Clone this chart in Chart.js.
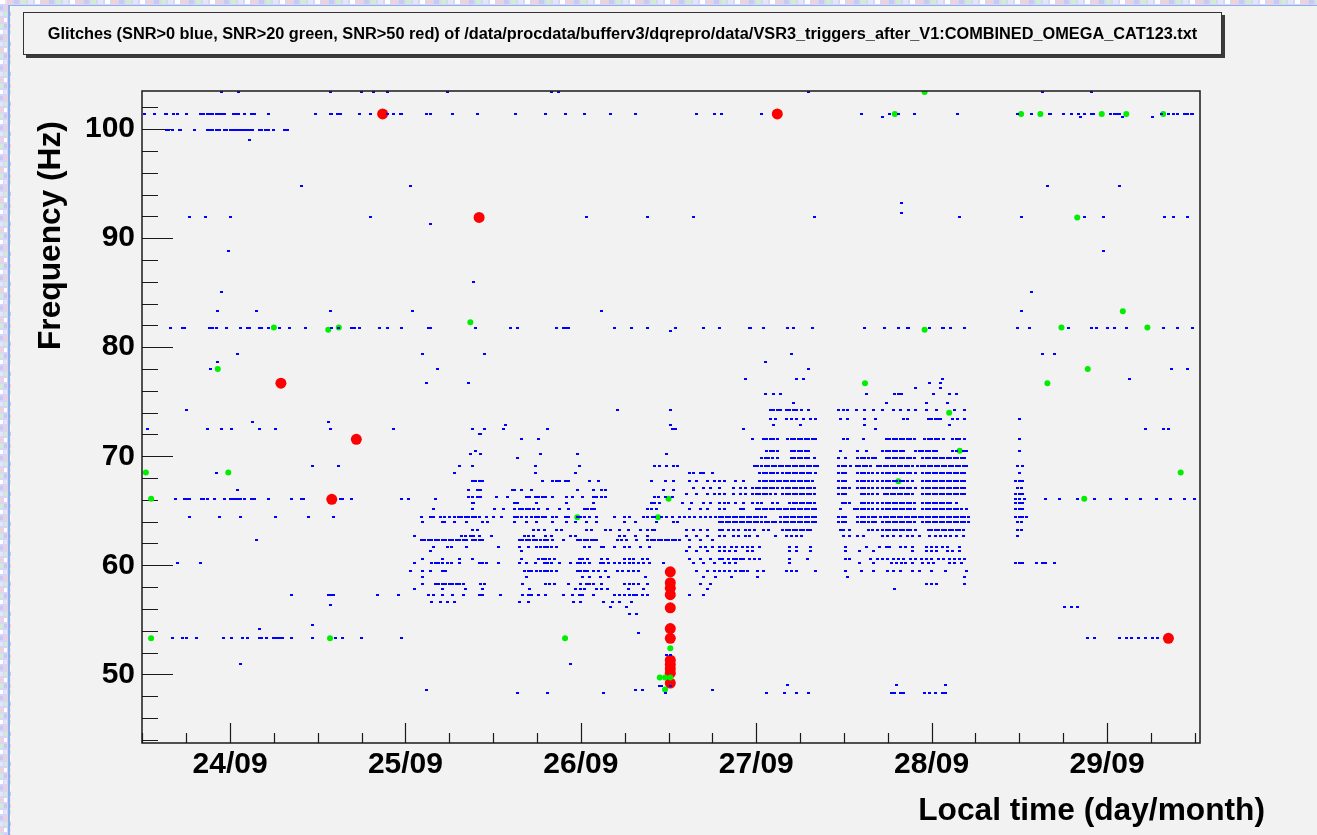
<!DOCTYPE html>
<html>
<head>
<meta charset="utf-8">
<title>Glitches</title>
<script src="https://cdn.jsdelivr.net/npm/chart.js@4.4.1/dist/chart.umd.min.js"></script>
<style>
  html, body { margin: 0; padding: 0; background: #f2f2f2; overflow: hidden; }
  canvas { display: block; }
</style>
</head>
<body>
<canvas id="glitches" width="1317" height="835"></canvas>
<script>
// Time is in days counted from 24/09 00:00 local time.
const xRange = [-0.502, 5.530];
const yRange = [43.7, 103.5];
const xTickDays = [0, 1, 2, 3, 4, 5];
const xTickLabels = ['24/09', '25/09', '26/09', '27/09', '28/09', '29/09'];
const yTickValues = [50, 60, 70, 80, 90, 100];

// SNR>0 triggers, grouped by the frequency of the tile they fall in (Hz)
const blueLevels = [
  103.4, 101.4, 101.1, 99.9, 99.0, 94.8, 93.2, 92.3, 91.9, 91.3,
  88.8, 86.0, 85.1, 83.3, 81.8, 81.5, 79.4, 78.6, 78.0, 77.1,
  76.7, 76.3, 75.7, 74.9, 74.2, 73.4, 73.1, 72.9, 72.5, 72.0,
  71.6, 70.5, 70.2, 69.8, 69.1, 68.5, 67.7, 67.1, 66.9, 66.5,
  66.3, 66.1, 65.7, 65.2, 64.4, 64.0, 63.2, 62.7, 62.3, 61.7,
  61.3, 60.6, 60.2, 59.5, 58.9, 58.3, 57.8, 57.3, 56.6, 56.4,
  56.2, 55.5, 54.5, 54.2, 53.8, 53.3, 51.8, 50.9, 49.0, 48.9,
  48.6, 48.3
];
// trigger times (days) for each entry of blueLevels, same order
const blueDays = [
  [-0.05,0.05,0.57,0.75,0.82,0.90,1.24,1.83,1.87,3.30,4.63,4.91],
  [-0.49,-0.43,-0.37,-0.36,-0.32,-0.30,-0.25,-0.17,-0.15,-0.13,-0.11,-0.10,-0.08,-0.06,-0.05,-0.03,0.02,0.03,0.05,0.08,0.12,0.14,0.22,0.49,0.57,0.58,0.61,0.63,0.74,0.80,0.90,0.93,0.97,0.98,1.12,1.14,1.27,1.41,1.63,1.80,1.91,2.02,2.17,2.31,2.66,2.76,2.80,3.03,3.60,3.76,3.81,3.90,4.15,4.49,4.57,4.67,4.68,4.75,4.80,4.84,4.87,4.91,4.92,5.02,5.04,5.06,5.07,5.31,5.35,5.38,5.40,5.44,5.46,5.48,5.49],
  [3.72,4.85,5.09,5.26],
  [-0.36,-0.35,-0.33,-0.29,-0.28,-0.20,-0.13,-0.12,-0.11,-0.10,-0.08,-0.07,-0.06,-0.03,-0.02,0.00,0.01,0.02,0.03,0.05,0.06,0.07,0.08,0.09,0.10,0.11,0.12,0.13,0.17,0.18,0.20,0.22,0.25,0.31,0.32,0.33],
  [0.11],
  [0.41,1.03,4.66,5.07],
  [3.83],
  [3.83],
  [-0.23,-0.14,0.00,0.80,2.03,2.38,2.64,3.33,4.16,4.51,4.87,4.98,5.33,5.38,5.46],
  [1.14],
  [-0.01,4.98],
  [1.39],
  [-0.05,4.57],
  [-0.07,0.15,0.57,1.04,2.12,4.51],
  [-0.34,-0.27,-0.26,-0.12,-0.10,-0.08,-0.02,0.06,0.10,0.11,0.17,0.18,0.22,0.28,0.34,0.43,0.58,0.62,0.69,0.71,0.74,0.85,0.90,0.98,1.13,1.14,1.40,1.60,1.64,1.86,1.90,1.92,1.93,2.19,2.29,2.38,2.54,2.70,2.79,2.96,2.97,3.04,3.18,3.21,3.32,3.62,3.73,3.81,3.86,3.87,3.99,4.06,4.07,4.11,4.19,4.49,4.56,4.78,4.91,4.94,5.00,5.04,5.11,5.32,5.40,5.49],
  [2.51],
  [0.04,1.10,1.45,3.20,4.63,4.70],
  [-0.07,3.05],
  [-0.11,1.18,3.30,5.37,5.46],
  [2.94,3.23,3.27,4.06,5.13],
  [1.12,1.36,3.99,4.05],
  [3.91,4.05],
  [3.05,3.10,3.14,3.63,3.79,3.81,3.83,4.01,4.10,4.14],
  [3.21,3.74,3.97,4.09],
  [-0.25,2.21,2.51,3.08,3.10,3.12,3.14,3.17,3.19,3.21,3.23,3.26,3.30,3.47,3.50,3.52,3.57,3.62,3.67,3.72,3.78,3.82,3.87,3.91,3.97,4.03,4.13,4.19],
  [3.08,3.11,3.17,3.20,3.23,3.27,3.31,3.34,3.48,3.52,3.62,3.68,3.84,3.86,3.98,4.00,4.02,4.04,4.05,4.12,4.15,4.19,4.50],
  [0.13,0.56],
  [1.57,2.51,3.10,3.25,3.62,4.10],
  [-0.47,-0.13,-0.05,0.01,0.17,0.26,0.57,0.93,1.38,1.45,1.56,1.81,2.52,2.54,2.93,3.68,5.22,5.32,5.35],
  [1.42,1.43],
  [1.66,1.76,2.98,3.04,3.06,3.08,3.10,3.12,3.18,3.20,3.22,3.24,3.26,3.28,3.30,3.32,3.34,3.50,3.52,3.61,3.74,3.76,3.78,3.80,3.82,3.84,3.86,3.88,3.90,3.96,3.98,4.00,4.02,4.04,4.07,4.12,4.14,4.16,4.19,4.50],
  [1.40,3.06,3.08,3.10,3.12,3.20,3.22,3.24,3.26,3.28,3.30,3.48,3.58,3.63,3.72,3.74,3.76,3.78,3.80,3.82,3.84,3.91,3.93,3.95,3.97,3.99,4.01,4.03,4.12,4.14,4.18,4.20,4.50],
  [1.37,1.43,1.77,1.98,2.49],
  [1.64,3.03,3.05,3.07,3.09,3.12,3.20,3.22,3.24,3.26,3.28,3.30,3.33,3.47,3.51,3.58,3.60,3.62,3.64,3.66,3.68,3.74,3.76,3.78,3.80,3.82,3.84,3.86,3.88,3.90,3.95,3.97,3.99,4.01,4.03,4.05,4.07,4.09,4.11,4.13,4.15,4.17,4.19],
  [0.47,0.62,1.31,1.38,1.74,1.99,2.42,2.45,2.49,2.53,2.55,2.99,3.01,3.03,3.05,3.07,3.09,3.11,3.13,3.15,3.17,3.19,3.21,3.23,3.25,3.27,3.29,3.31,3.33,3.35,3.47,3.49,3.51,3.54,3.57,3.59,3.61,3.63,3.65,3.69,3.71,3.73,3.75,3.77,3.79,3.81,3.83,3.85,3.87,3.89,3.92,3.94,3.96,3.98,4.00,4.02,4.04,4.06,4.08,4.10,4.12,4.14,4.16,4.18,4.20,4.49,4.52],
  [-0.08,1.28,1.74,1.97,2.62,2.64,2.68,2.70,2.75,3.02,3.04,3.06,3.08,3.10,3.12,3.15,3.17,3.19,3.21,3.23,3.25,3.27,3.29,3.31,3.34,3.47,3.49,3.51,3.58,3.60,3.62,3.64,3.66,3.69,3.72,3.74,3.76,3.78,3.80,3.82,3.84,3.86,3.88,3.91,3.95,3.97,3.99,4.01,4.03,4.05,4.07,4.09,4.11,4.13,4.15,4.17,4.19,4.50],
  [1.38,1.40,1.42,1.44,1.78,1.84,1.86,1.88,1.91,1.93,2.05,2.10,2.40,2.48,2.53,2.62,2.66,2.72,2.76,2.79,2.82,2.88,2.93,3.02,3.04,3.06,3.08,3.10,3.12,3.14,3.16,3.18,3.20,3.22,3.24,3.26,3.28,3.30,3.32,3.47,3.49,3.51,3.58,3.60,3.62,3.64,3.66,3.69,3.72,3.74,3.76,3.78,3.80,3.82,3.84,3.86,3.89,3.95,3.97,3.99,4.01,4.03,4.05,4.07,4.09,4.11,4.13,4.15,4.17,4.19,4.48,4.50,4.52],
  [2.64,2.70,2.74,2.79,2.87,2.91,2.94,2.98,3.00,3.02,3.04,3.06,3.08,3.10,3.12,3.15,3.17,3.19,3.21,3.23,3.25,3.27,3.29,3.31,3.33,3.47,3.49,3.51,3.53,3.58,3.60,3.62,3.64,3.66,3.69,3.72,3.74,3.76,3.78,3.80,3.82,3.84,3.86,3.88,3.91,3.95,3.97,3.99,4.01,4.03,4.05,4.07,4.09,4.11,4.13,4.15,4.17,4.19,4.49,4.51],
  [0.04,1.36,1.41,1.43,1.61,1.62,1.66,1.72,1.98,2.07,2.12,2.14,2.47,2.53],
  [2.60,2.66,2.72,2.76,2.79,2.82,2.87,2.91,2.94,2.98,3.00,3.02,3.04,3.06,3.08,3.11,3.15,3.17,3.19,3.21,3.23,3.25,3.27,3.29,3.31,3.33,3.47,3.49,3.51,3.60,3.62,3.64,3.66,3.69,3.73,3.75,3.77,3.79,3.81,3.83,3.85,3.87,3.89,3.95,3.97,3.99,4.01,4.03,4.05,4.07,4.09,4.11,4.13,4.15,4.17,4.19,4.48,4.50,4.52],
  [1.36,1.38,1.41,1.43,1.52,1.58,1.69,1.71,1.74,1.76,1.78,1.80,1.84,1.92,1.95,2.01,2.07,2.09,2.12,2.14,2.42,2.44,2.48,2.52],
  [-0.31,-0.26,-0.24,-0.23,-0.16,-0.15,-0.13,-0.09,-0.03,0.00,0.02,0.03,0.05,0.06,0.08,0.12,0.14,0.22,0.35,0.41,0.42,0.63,0.64,0.69,0.98,1.02,1.17,4.48,4.50,4.53,4.65,4.73,4.83,4.93,5.02,5.11,5.19,5.28,5.36,5.44,5.50],
  [1.38,1.39,1.62,1.64,1.75,1.92,2.07,2.40,2.42,2.45,2.58,2.63,2.70,2.74,2.79,2.82,2.84,2.88,2.93,2.98,3.01,3.03,3.09,3.12,3.19,3.21,3.23,3.25,3.27,3.29,3.31,3.33,3.49,3.51,3.53,3.60,3.62,3.64,3.66,3.69,3.72,3.74,3.76,3.78,3.80,3.82,3.84,3.86,3.88,3.90,3.95,3.97,3.99,4.01,4.03,4.05,4.07,4.09,4.11,4.14,4.48,4.50,4.52],
  [1.16,1.38,1.51,1.56,1.62,1.65,1.67,1.69,1.71,1.73,1.76,1.81,1.88,1.93,2.02,2.04,2.06,2.08,2.38,2.40,2.43,2.62,2.68,2.72,2.79,2.82,2.91,2.93,3.00,3.02,3.04,3.06,3.08,3.10,3.12,3.14,3.16,3.18,3.20,3.22,3.24,3.26,3.28,3.30,3.32,3.34,3.48,3.56,3.58,3.60,3.62,3.64,3.66,3.69,3.72,3.74,3.76,3.78,3.80,3.82,3.84,3.86,3.88,3.90,3.95,3.97,3.99,4.01,4.03,4.05,4.07,4.09,4.11,4.13,4.15,4.17,4.20,4.48,4.50,4.52],
  [-0.23,-0.06,0.06,0.26,0.45,0.59,1.09,1.14,1.16,1.20,1.22,1.25,1.28,1.30,1.32,1.34,1.36,1.38,1.40,1.42,1.46,1.50,1.55,1.62,1.64,1.66,1.69,1.72,1.74,1.76,1.78,1.80,1.84,1.86,1.91,1.93,1.98,2.00,2.02,2.05,2.09,2.19,2.25,2.28,2.36,2.38,2.41,2.42,2.46,2.49,2.52,2.56,2.59,2.62,2.65,2.68,2.71,2.74,2.77,2.79,2.81,2.83,2.85,2.87,2.89,2.91,2.93,2.95,2.97,2.99,3.01,3.03,3.05,3.14,3.16,3.18,3.20,3.22,3.24,3.26,3.28,3.30,3.32,3.34,3.47,3.49,3.51,3.58,3.60,3.62,3.64,3.66,3.68,3.71,3.73,3.75,3.77,3.79,3.81,3.83,3.85,3.87,3.89,3.91,3.93,3.95,3.97,3.99,4.01,4.03,4.05,4.07,4.09,4.11,4.13,4.15,4.17,4.19,4.21,4.48,4.50,4.52,4.54],
  [1.10,1.21,1.22,1.28,1.35,1.44,1.47,1.62,1.69,1.75,1.84,1.92,1.97,2.03,2.09,2.25,2.31,2.43,2.53,2.55,2.79,2.81,2.83,2.85,2.87,2.89,2.91,2.93,2.95,2.97,2.99,3.01,3.03,3.05,3.07,3.09,3.11,3.14,3.16,3.18,3.20,3.22,3.24,3.26,3.28,3.30,3.32,3.34,3.47,3.49,3.51,3.58,3.60,3.62,3.64,3.66,3.68,3.72,3.74,3.76,3.78,3.80,3.82,3.84,3.86,3.88,3.90,3.95,3.97,3.99,4.01,4.03,4.05,4.07,4.09,4.11,4.13,4.15,4.17,4.19,4.21,4.49,4.51],
  [1.38,1.41,1.73,1.76,1.79,1.86,1.89,2.03,2.06,2.14,2.17,2.22,2.27,2.34,2.38,2.41,2.42,2.60,2.64,2.68,2.72,2.79,2.81,2.84,2.87,2.90,2.94,2.96,2.99,3.04,3.07,3.15,3.17,3.19,3.21,3.23,3.25,3.27,3.29,3.31,3.48,3.50,3.53,3.64,3.66,3.69,3.72,3.74,3.76,3.78,3.80,3.82,3.84,3.86,3.88,3.91,3.98,4.00,4.02,4.04,4.06,4.08,4.10,4.12,4.14,4.16,4.18,4.49,4.51],
  [1.05,1.32,1.34,1.37,1.39,1.42,1.49,1.68,1.70,1.73,1.80,1.83,1.94,1.97,2.22,2.25,2.31,2.38,2.60,2.66,2.72,2.79,2.82,2.87,2.90,2.94,2.96,3.01,3.11,3.17,3.20,3.23,3.26,3.50,3.53,3.58,3.61,3.72,3.75,3.78,3.82,3.86,3.89,3.93,3.99,4.02,4.05,4.08,4.11,4.14,4.18,4.49],
  [0.15,1.09,1.11,1.13,1.15,1.17,1.19,1.21,1.23,1.25,1.27,1.29,1.31,1.33,1.35,1.38,1.40,1.42,1.44,1.65,1.67,1.69,1.71,1.73,1.75,1.77,1.79,1.81,1.84,1.90,1.98,2.00,2.02,2.04,2.06,2.08,2.09,2.21,2.23,2.26,2.32,2.38,2.40,2.42,2.44,2.46,2.48,2.50,2.52,2.54,2.56,2.62,2.68,2.75],
  [1.16,1.24,1.26,1.35,1.53,1.65,1.70,1.75,1.77,1.79,1.81,1.83,1.86,2.02,2.05,2.12,2.13,2.19,2.25,2.28,2.34,2.39,2.62,2.68,2.71,2.75,2.79,2.82,2.86,2.89,2.92,2.95,2.98,3.02,3.19,3.23,3.31,3.51,3.63,3.70,3.74,3.76,3.82,3.85,3.89,3.97,4.00,4.03,4.06,4.09,4.16],
  [1.14,1.66,2.60,2.66,2.72,2.79,2.82,2.85,2.88,2.95,2.98,3.19,3.23,3.31,3.51,3.59,3.67,3.89,3.97,4.00,4.03,4.09,4.12,4.16],
  [1.10,1.21,1.31,1.38,1.66,1.76,1.78,1.80,1.82,1.85,1.99,2.01,2.04,2.12,2.15,2.25,2.28,2.30,2.35,2.38,2.62,2.68,2.74,2.79,2.81,2.84,2.87,2.89,2.91,2.93,2.96,2.99,3.02,3.19,3.29,3.51,3.53,3.65,3.69,3.72,3.75,3.78,3.81,3.84,3.88,3.91,3.94,3.97,4.00,4.04,4.07,4.10,4.13,4.16,4.19],
  [-0.30,-0.17,1.05,1.15,1.17,1.19,1.21,1.24,1.26,1.31,1.42,1.44,1.46,1.53,1.65,1.69,1.74,1.79,1.81,1.83,1.88,1.94,1.98,2.00,2.02,2.05,2.11,2.13,2.16,2.19,2.22,2.25,2.28,2.30,2.33,2.36,2.39,2.47,2.64,2.70,2.76,2.82,2.85,2.88,3.19,3.59,3.67,3.77,3.80,3.83,3.85,3.89,3.95,3.98,4.01,4.10,4.13,4.17,4.48,4.50,4.52,4.60,4.63,4.65,4.70],
  [1.03,1.10,1.14,1.21,1.23,1.68,1.70,1.72,1.75,1.77,1.79,1.81,1.83,1.86,1.98,2.00,2.02,2.04,2.07,2.10,2.14,2.21,2.24,2.27,2.30,2.33,2.66,2.72,2.76,2.79,2.82,2.85,2.88,2.91,2.93,2.95,3.01,3.04,3.17,3.20,3.23,3.34,3.51,3.60,3.67,3.75,3.78,3.82,3.89,3.93,4.00,4.08,4.20],
  [1.10,1.69,2.01,2.05,2.11,2.16,2.37,2.70,2.77,2.86,3.01,3.52,4.19],
  [1.10,1.17,1.19,1.21,1.23,1.25,1.27,1.29,1.31,1.33,1.43,1.45,1.67,1.80,1.82,1.85,1.93,2.00,2.03,2.05,2.07,2.12,2.25,2.28,2.30,2.33,2.38,2.68,2.74,3.97,4.00,4.03,4.19],
  [1.05,1.21,1.34,1.44,1.71,1.97,2.00,2.02,2.09,2.12,2.15,2.27,2.36,2.72,3.79],
  [0.35,0.56,0.57,0.59,0.84,0.96,1.13,1.16,1.21,1.27,1.33,1.42,1.44,1.54,1.67,1.70,1.72,1.76,1.80,1.90,1.95,1.99,2.01,2.07,2.19,2.22,2.25,2.28,2.30,2.32,2.35,2.38,2.62,2.70],
  [1.15,1.20,1.24,1.28,1.65,1.70,1.96,2.00,2.13,2.18,2.22,2.29],
  [0.57],
  [2.17,2.26,4.76,4.80,4.83],
  [2.28,2.32],
  [0.47],
  [0.17],
  [2.33],
  [-0.33,-0.27,-0.25,-0.19,-0.04,0.01,0.07,0.10,0.17,0.18,0.21,0.25,0.26,0.27,0.29,0.30,0.35,0.47,0.60,0.64,0.75,0.98,4.89,4.93,5.07,5.11,5.14,5.18,5.22,5.26,5.29],
  [2.49,2.51],
  [0.06,1.94],
  [3.18,3.80,4.08],
  [2.45,2.46,2.51],
  [1.12,2.31,2.35,2.75],
  [1.64,1.81,2.13,2.48,3.06,3.16,3.23,3.30,3.77,3.79,3.82,3.84,3.96,3.99,4.02,4.06,4.08]
];

// SNR>20 triggers
const greenDays = [-0.48,-0.45,-0.45,-0.07,-0.01,0.25,0.56,0.62,0.57,1.37,1.91,1.98,2.44,2.50,2.51,2.45,2.48,2.51,2.48,3.62,3.81,3.79,3.96,3.96,4.10,4.16,4.51,4.62,4.66,4.74,4.83,4.87,4.89,4.97,5.09,5.11,5.23,5.32,5.42];
const greenHz   = [68.5,66.1,53.3,78.0,68.5,81.8,81.6,81.8,53.3,82.3,53.3,64.4,64.4,66.1,52.4,49.7,49.7,49.7,48.6,76.7,67.7,101.4,103.4,81.6,74.0,70.5,101.4,101.4,76.7,81.8,91.9,66.1,78.0,101.4,83.3,101.4,81.8,101.4,68.5];

// SNR>50 triggers
const redDays = [0.29,0.58,0.72,0.87,1.42,3.12,5.35,2.51,2.51,2.51,2.51,2.51,2.51,2.51,2.51,2.51,2.51,2.51,2.51];
const redHz   = [76.7,66.05,71.55,101.4,91.9,101.4,53.3,59.4,58.4,57.9,57.3,56.1,54.2,53.3,51.3,50.9,50.5,50.1,49.2];

const titleText = 'Glitches (SNR>0 blue, SNR>20 green, SNR>50 red) of /data/procdata/bufferv3/dqrepro/data/VSR3_triggers_after_V1:COMBINED_OMEGA_CAT123.txt';
const xTitle = 'Local time (day/month)';
const yTitle = 'Frequency (Hz)';

const FONT = "'Liberation Sans', Arial, Helvetica, sans-serif";

function rowsToPoints(levels, days) {
  const pts = [];
  levels.forEach((hz, i) => days[i].forEach(d => pts.push({ x: d, y: hz })));
  return pts;
}
function pairPoints(days, hz) {
  return days.map((d, i) => ({ x: d, y: hz[i] }));
}

// small 3x2 dot used for the SNR>0 markers
const dotMarker = document.createElement('canvas');
dotMarker.width = 3;
dotMarker.height = 2;
(function () {
  const c = dotMarker.getContext('2d');
  c.fillStyle = '#0000ff';
  c.fillRect(0, 0, 3, 2);
})();

// ROOT-style canvas: page strip, title box, frame with inward ticks, axis titles
const rootStyle = {
  id: 'rootStyle',
  beforeDraw(chart) {
    const ctx = chart.ctx, W = chart.width, H = chart.height;
    ctx.save();
    ctx.fillStyle = '#f2f2f2';
    ctx.fillRect(0, 0, W, H);
    // page background strip along the left and top edges
    ctx.fillStyle = '#d6d6f6';
    ctx.fillRect(0, 0, 9, H);
    ctx.fillRect(0, 0, W, 5);
    const tints = ['#ffffff', '#cfeecf', '#f3d0d6', '#e4e4fb', '#c8c8f2'];
    for (let y = 0; y < H; y += 6) {
      for (let x = 0; x < 9; x += 4) {
        ctx.fillStyle = tints[(x * 7 + y * 3 + ((y / 6) | 0)) % 5];
        ctx.fillRect(x, y, 3, 4);
      }
    }
    for (let x = 0; x < W; x += 7) {
      ctx.fillStyle = tints[(x * 3 + ((x / 7) | 0)) % 5];
      ctx.fillRect(x, 0, 5, 4);
    }
    ctx.fillStyle = '#8fb0e6';
    ctx.fillRect(8, 5, 2, H - 5);
    ctx.fillRect(8, 5, W - 8, 1);

    // title box with drop shadow
    const bx = 23, by = 12, bw = 1199, bh = 43;
    ctx.fillStyle = '#3a3a3a';
    ctx.fillRect(bx + 3, by + 3, bw, bh);
    ctx.fillStyle = '#f2f2f2';
    ctx.fillRect(bx, by, bw, bh);
    ctx.strokeStyle = '#333';
    ctx.lineWidth = 1;
    ctx.strokeRect(bx + 0.5, by + 0.5, bw - 1, bh - 1);
    ctx.fillStyle = '#000';
    let fs = 15;
    ctx.font = 'bold ' + fs + 'px ' + FONT;
    const w0 = ctx.measureText(titleText).width;
    fs = fs * 1150 / w0;
    ctx.font = 'bold ' + fs.toFixed(2) + 'px ' + FONT;
    ctx.textAlign = 'center';
    ctx.textBaseline = 'alphabetic';
    ctx.fillText(titleText, bx + bw / 2, 39);
    ctx.restore();
  },
  beforeDatasetsDraw(chart) {
    const ctx = chart.ctx, a = chart.chartArea;
    const xs = chart.scales.x, ys = chart.scales.y;
    ctx.save();
    ctx.strokeStyle = '#1a1a1a';
    ctx.lineWidth = 1.2;
    ctx.beginPath();
    // y axis: major every 10 Hz, minor every 2 Hz
    for (let v = Math.ceil(yRange[0] / 2) * 2; v <= yRange[1]; v += 2) {
      const py = Math.round(ys.getPixelForValue(v)) + 0.5;
      const len = (v % 10 === 0) ? 31 : 16;
      ctx.moveTo(a.left, py);
      ctx.lineTo(a.left + len, py);
    }
    // x axis: major every day, minor every 6 hours
    for (let q = Math.ceil(xRange[0] * 4); q <= xRange[1] * 4; q++) {
      const px = Math.round(xs.getPixelForValue(q / 4)) + 0.5;
      const len = (q % 4 === 0) ? 20 : 10;
      ctx.moveTo(px, a.bottom);
      ctx.lineTo(px, a.bottom - len);
    }
    ctx.stroke();
    ctx.restore();
  },
  afterDraw(chart) {
    const ctx = chart.ctx, a = chart.chartArea;
    ctx.save();
    // frame
    ctx.strokeStyle = '#1a1a1a';
    ctx.lineWidth = 1.5;
    ctx.strokeRect(a.left, a.top, a.right - a.left, a.bottom - a.top);
    ctx.fillStyle = '#000';
    ctx.font = 'bold 31.7px ' + FONT;
    ctx.textBaseline = 'alphabetic';
    ctx.textAlign = 'right';
    ctx.fillText(xTitle, 1265, 820);
    ctx.translate(60, 350);
    ctx.rotate(-Math.PI / 2);
    ctx.textAlign = 'left';
    ctx.fillText(yTitle, 0, 0);
    ctx.restore();
  }
};

new Chart(document.getElementById('glitches'), {
  type: 'scatter',
  data: {
    datasets: [
      {
        label: 'SNR>0',
        data: rowsToPoints(blueLevels, blueDays),
        pointStyle: dotMarker,
        pointRadius: 1.5,
        backgroundColor: '#0000ff',
        borderWidth: 0
      },
      {
        label: 'SNR>20',
        data: pairPoints(greenDays, greenHz),
        pointStyle: 'circle',
        pointRadius: 3,
        backgroundColor: '#00ee00',
        borderWidth: 0
      },
      {
        label: 'SNR>50',
        data: pairPoints(redDays, redHz),
        pointStyle: 'circle',
        pointRadius: 5.5,
        backgroundColor: '#ff0000',
        borderWidth: 0
      }
    ]
  },
  options: {
    responsive: false,
    animation: false,
    events: [],
    layout: { padding: { top: 91, right: 117, bottom: 0, left: 0 } },
    plugins: { legend: { display: false }, tooltip: { enabled: false }, title: { display: false } },
    scales: {
      x: {
        type: 'linear',
        min: xRange[0],
        max: xRange[1],
        grid: { display: false, drawTicks: false },
        border: { display: false },
        afterBuildTicks: s => { s.ticks = xTickDays.map(v => ({ value: v })); },
        afterFit: s => { s.height = 92; },
        ticks: {
          autoSkip: false,
          maxRotation: 0,
          padding: 4,
          color: '#000',
          font: { family: FONT, size: 30, weight: 'bold' },
          callback: (v, i) => xTickLabels[i]
        }
      },
      y: {
        type: 'linear',
        min: yRange[0],
        max: yRange[1],
        grid: { display: false, drawTicks: false },
        border: { display: false },
        afterBuildTicks: s => { s.ticks = yTickValues.map(v => ({ value: v })); },
        afterFit: s => { s.width = 142; },
        ticks: {
          autoSkip: false,
          padding: 7,
          color: '#000',
          font: { family: FONT, size: 30, weight: 'bold' },
          callback: v => String(v)
        }
      }
    }
  },
  plugins: [rootStyle]
});
</script>
</body>
</html>
